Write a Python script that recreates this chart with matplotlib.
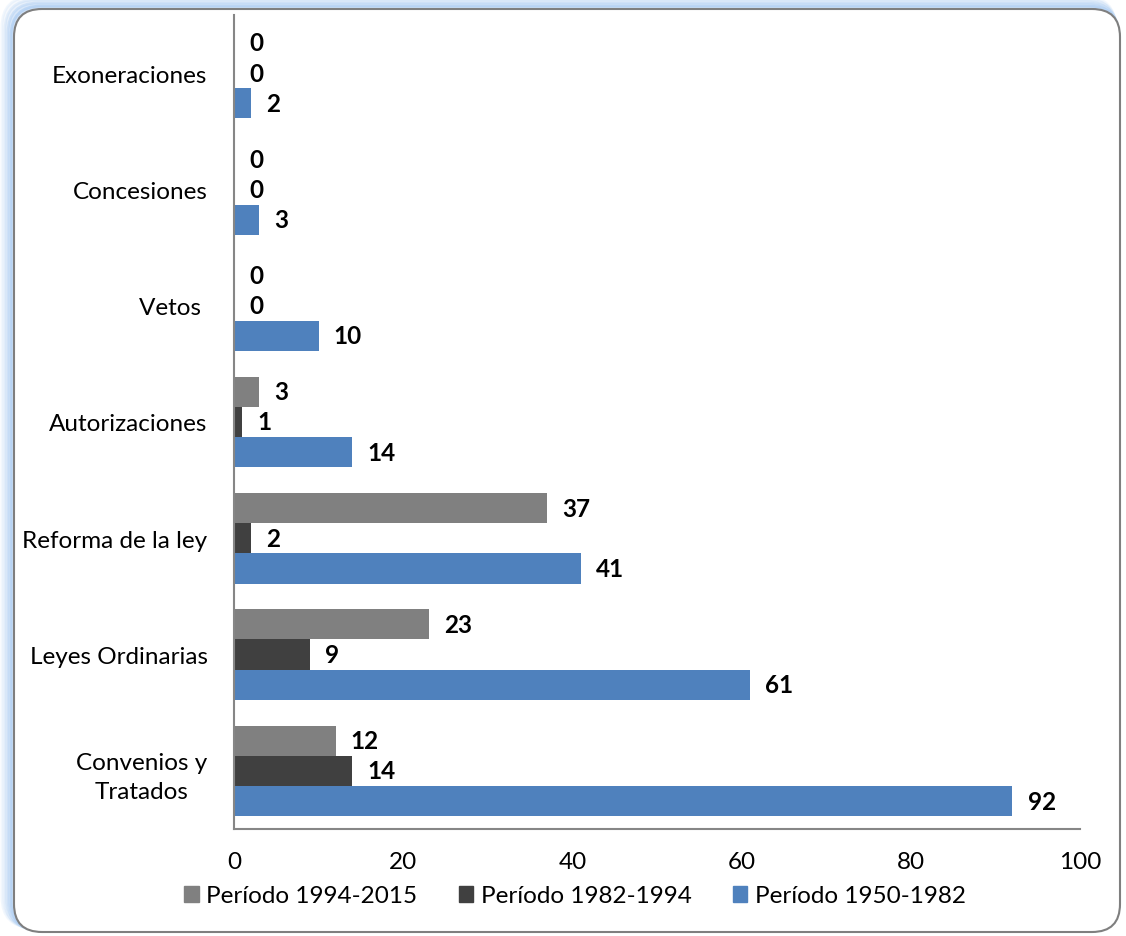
import matplotlib
matplotlib.use('Agg')
import matplotlib.pyplot as plt
from matplotlib.patches import FancyBboxPatch, Patch
import numpy as np

# data
categorias = ['Convenios y\nTratados', 'Leyes Ordinarias', 'Reforma de la ley',
              'Autorizaciones', 'Vetos ', 'Concesiones', 'Exoneraciones']
p1950 = [92, 61, 41, 14, 10, 3, 2]
p1982 = [14, 9, 2, 1, 0, 0, 0]
p1994 = [12, 23, 37, 3, 0, 0, 0]
series = ['Período 1994-2015', 'Período 1982-1994', 'Período 1950-1982']
colores = ['#808080', '#404040', '#4F81BD']

plt.rcParams['font.family'] = ['Lato', 'DejaVu Sans']

W, H = 1126, 937
fig = plt.figure(figsize=(W / 100, H / 100), dpi=100)

# background layer in pixel units: rounded frame with a soft blue glow
bg = fig.add_axes([0, 0, 1, 1], zorder=-1)
bg.set_xlim(0, W)
bg.set_ylim(H, 0)
bg.axis('off')
for k, a in enumerate([0.15, 0.25, 0.4, 0.6]):
    off = 12 - 3 * k
    glow = FancyBboxPatch((14 - off, 10 - off), 1106 + off * 0.6, 923 + off * 0.6,
                          boxstyle='round,pad=0,rounding_size=30',
                          facecolor='#C5DCF7', edgecolor='#A9CBF2', lw=2, alpha=a)
    bg.add_patch(glow)
frame = FancyBboxPatch((14, 10), 1106, 923,
                       boxstyle='round,pad=0,rounding_size=28',
                       facecolor='white', edgecolor='#7F7F7F', lw=1.5)
bg.add_patch(frame)

ax = fig.add_axes([234 / W, (H - 830) / H, (1080 - 234) / W, (830 - 16) / H])
ax.set_facecolor('none')

y = np.arange(len(categorias))
h = 0.26
valores = [p1994, p1982, p1950]
offsets = [h, 0, -h]
for vals, col, off, lab in zip(valores, colores, offsets, series):
    bars = ax.barh(y + off, vals, height=h, color=col, label=lab, zorder=2)
    for b, v in zip(bars, vals):
        ax.annotate(str(v), (v, b.get_y() + b.get_height() / 2),
                    xytext=(11, 0), textcoords='offset points',
                    ha='left', va='center', fontsize=17.5, fontweight='bold')

ax.set_xlim(0, 100)
ax.set_ylim(-0.5, 6.5)
ax.set_xticks([0, 20, 40, 60, 80, 100])
ax.set_yticks(y)
ax.set_yticklabels(categorias, multialignment='center', linespacing=1.5)
ax.tick_params(axis='both', length=0, labelsize=17.5)
ax.tick_params(axis='y', pad=19)
ax.tick_params(axis='x', pad=16)
for s in ['top', 'right']:
    ax.spines[s].set_visible(False)
for s in ['left', 'bottom']:
    ax.spines[s].set_color('#868686')
    ax.spines[s].set_linewidth(1.5)

handles = [Patch(color=c, label=s) for c, s in zip(colores, series)]
fig.legend(handles=handles, loc='center', bbox_to_anchor=(575 / W, (H - 897) / H),
           ncol=3, frameon=False, fontsize=17.5, handlelength=0.6, handleheight=0.6,
           handletextpad=0.3, columnspacing=1.7)

fig.savefig('out.png', dpi=100)
